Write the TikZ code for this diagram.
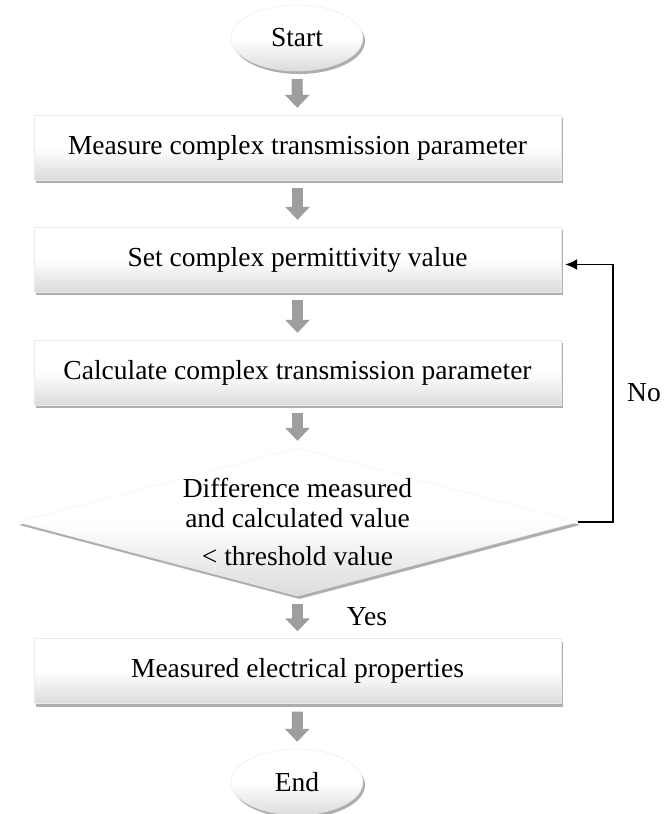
\documentclass[tikz,border=0pt]{standalone}
\usepackage{fontspec}
\setmainfont{Liberation Serif}
\usetikzlibrary{shapes.geometric,shadows,arrows.meta}
\begin{document}
\begin{tikzpicture}[x=1pt,y=1pt,
  txt/.style={font=\fontsize{27.5}{30}\selectfont},
  shadowed/.style={drop shadow={shadow xshift=2pt,shadow yshift=-3pt,opacity=0.45,fill=black!70}},
  procbox/.style={rectangle, minimum width=527pt, minimum height=65pt, inner sep=0pt, top color=white, bottom color=black!14, middle color=white, draw=black!8, line width=0.4pt, shadowed, txt},
  term/.style={ellipse, minimum width=132pt, minimum height=66pt, inner sep=0pt, top color=white, bottom color=black!14, middle color=white, draw=black!8, line width=0.4pt, shadowed, txt},
  decision/.style={diamond, minimum width=561pt, minimum height=148pt, inner sep=0pt, top color=white, bottom color=black!14, middle color=white, draw=black!6, line width=0.4pt, shadowed},
  garrow/.style={draw=black!38, line width=11pt, -{Triangle[width=24pt,length=13pt]}, shorten <=8pt, shorten >=7pt},
  fb/.style={draw=black, line width=1.5pt, -{Latex[length=12pt,width=11pt]}},
  lbl/.style={inner sep=0pt, txt}
]
\useasboundingbox (0,0) rectangle (664,-814);
\fill[white] (0,0) rectangle (664,-814);

\node[term] (start) at (297,-38) {Start};
\node[procbox] (measure) at (297.5,-147.5) {Measure complex transmission parameter};
\node[procbox] (set) at (297.5,-259.5) {Set complex permittivity value};
\node[procbox] (calc) at (297.5,-372.5) {Calculate complex transmission parameter};
\node[decision] (dia) at (297.5,-522) {};
\node[lbl, anchor=base] (d1) at (297.5,-497) {Difference measured};
\node[lbl, anchor=base] (d2) at (297.5,-527) {and calculated value};
\node[lbl, anchor=base] (d3) at (297.5,-565) {< threshold value};
\node[procbox] (final) at (297.5,-671) {Measured electrical properties};
\node[term] (end) at (297,-782) {End};

\node[lbl] (yes) at (367,-617) {Yes};
\node[lbl] (no) at (644,-393) {No};

\draw[garrow] (start) -- (measure);
\draw[garrow] (measure) -- (set);
\draw[garrow] (set) -- (calc);
\draw[garrow] (calc) -- (dia);
\draw[garrow] (dia) -- (final);
\draw[garrow] (final) -- (end);

\draw[fb] (dia.east) -- ++(35,0) |- ([xshift=4pt,yshift=-5pt]set.east);
\end{tikzpicture}
\end{document}
